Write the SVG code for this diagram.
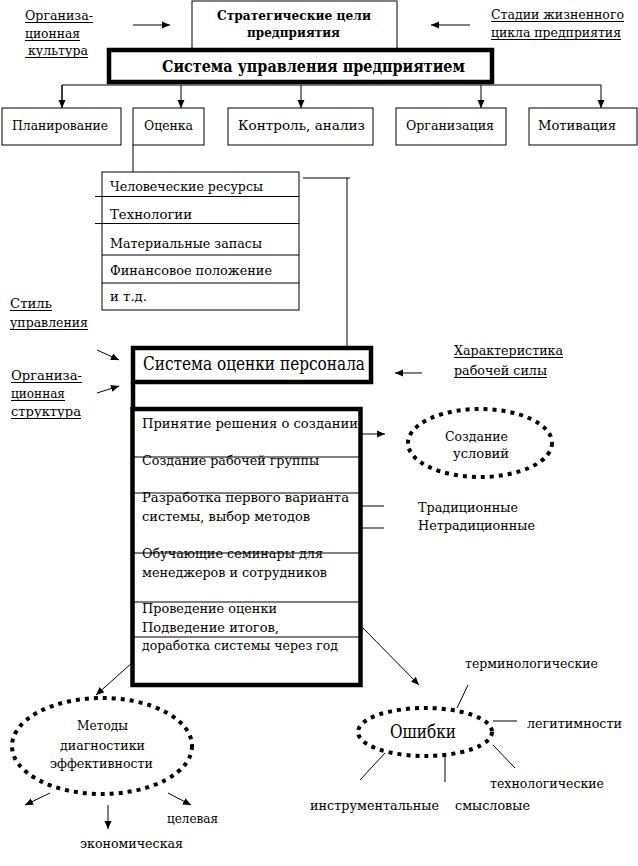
<svg xmlns="http://www.w3.org/2000/svg" width="638" height="866" viewBox="0 0 638 866" font-family="DejaVu Serif, Liberation Serif, serif">
<style>
text{font-size:13px;fill:#000}
.b{font-weight:bold}
.box{fill:#fff;stroke:#000;stroke-width:1}
.thick{fill:#fff;stroke:#000;stroke-width:4.5}
.ln{stroke:#000;stroke-width:1;fill:none}
.ul{stroke:#000;stroke-width:1}
.dot{fill:none;stroke:#000;stroke-width:4;stroke-dasharray:4 5}
</style>
<defs>
<marker id="ah" markerUnits="userSpaceOnUse" markerWidth="8" markerHeight="8" refX="8" refY="4" orient="auto">
<path d="M0,0.5 L8,4 L0,7.5 z" fill="#000"/>
</marker>
</defs>
<rect width="638" height="866" fill="#fff"/>

<g id="connectors">
<line class="ln" x1="133" y1="25" x2="170" y2="25" marker-end="url(#ah)"/>
<line class="ln" x1="470" y1="25" x2="431" y2="25" marker-end="url(#ah)"/>
<polyline class="ln" points="62,108 62,85 601,85 601,108" marker-end="url(#ah)"/>
<line class="ln" x1="62" y1="85" x2="62" y2="108" marker-end="url(#ah)"/>
<line class="ln" x1="181" y1="85" x2="181" y2="108" marker-end="url(#ah)"/>
<line class="ln" x1="301" y1="85" x2="301" y2="108" marker-end="url(#ah)"/>
<line class="ln" x1="481" y1="85" x2="481" y2="108" marker-end="url(#ah)"/>
<line class="ln" x1="133" y1="145" x2="133" y2="172"/>
<polyline class="ln" points="303,178 350,178"/>
<line class="ln" x1="347" y1="178" x2="347" y2="347"/>
<line class="ln" x1="97" y1="350" x2="119" y2="360" marker-end="url(#ah)"/>
<line class="ln" x1="97" y1="393" x2="119" y2="386" marker-end="url(#ah)"/>
<line class="ln" x1="422" y1="373" x2="395" y2="373" marker-end="url(#ah)"/>
<line stroke="#000" stroke-width="4.5" x1="133" y1="382" x2="133" y2="409"/>
<line class="ln" x1="362" y1="434" x2="385" y2="434" marker-end="url(#ah)"/>
<line class="ln" x1="362" y1="506" x2="384" y2="506"/>
<line class="ln" x1="362" y1="528" x2="384" y2="528"/>
<line class="ln" x1="362" y1="627" x2="419" y2="685" marker-end="url(#ah)"/>
<line class="ln" x1="133" y1="662" x2="96" y2="695" marker-end="url(#ah)"/>
<line class="ln" x1="50" y1="793" x2="25" y2="805" marker-end="url(#ah)"/>
<line class="ln" x1="108" y1="805" x2="108" y2="829" marker-end="url(#ah)"/>
<line class="ln" x1="168" y1="793" x2="191" y2="805" marker-end="url(#ah)"/>
<line class="ln" x1="457" y1="708" x2="468" y2="685"/>
<line class="ln" x1="493" y1="721" x2="517" y2="721"/>
<line class="ln" x1="493" y1="745" x2="515" y2="768"/>
<line class="ln" x1="445" y1="757" x2="445" y2="782"/>
<line class="ln" x1="385" y1="753" x2="360" y2="780"/>
</g>

<g id="label-culture">
<text x="25" y="20" textLength="68" lengthAdjust="spacingAndGlyphs">Организа-</text>
<text x="25" y="38" textLength="55" lengthAdjust="spacingAndGlyphs">ционная</text>
<text x="28" y="55" textLength="60" lengthAdjust="spacingAndGlyphs">культура</text>
<line class="ul" x1="25" y1="22.5" x2="93" y2="22.5"/>
<line class="ul" x1="25" y1="40.5" x2="80" y2="40.5"/>
<line class="ul" x1="25" y1="57.5" x2="88" y2="57.5"/>
</g>
<g id="label-stages">
<text x="491" y="19" textLength="133" lengthAdjust="spacingAndGlyphs">Стадии жизненного</text>
<text x="491" y="37" textLength="130" lengthAdjust="spacingAndGlyphs">цикла предприятия</text>
<line class="ul" x1="491" y1="21.5" x2="624" y2="21.5"/>
<line class="ul" x1="491" y1="39.5" x2="621" y2="39.5"/>
</g>
<g id="node-goals">
<rect class="box" x="192" y="1" width="205" height="48"/>
<text class="b" x="217" y="20" textLength="154" lengthAdjust="spacingAndGlyphs">Стратегические цели</text>
<text class="b" x="247" y="37" textLength="93" lengthAdjust="spacingAndGlyphs">предприятия</text>
</g>
<g id="node-management">
<rect class="thick" x="109" y="50" width="383" height="32"/>
<text class="b" x="162" y="72" style="font-size:17px" textLength="303" lengthAdjust="spacingAndGlyphs">Система управления предприятием</text>
</g>
<g id="node-planning">
<rect class="box" x="2" y="108" width="119" height="37"/>
<text x="12" y="130" textLength="96" lengthAdjust="spacingAndGlyphs">Планирование</text>
</g>
<g id="node-assessment">
<rect class="box" x="133" y="108" width="71" height="37"/>
<text x="144" y="130" textLength="49" lengthAdjust="spacingAndGlyphs">Оценка</text>
</g>
<g id="node-control">
<rect class="box" x="228" y="108" width="145" height="37"/>
<text x="238" y="130" textLength="127" lengthAdjust="spacingAndGlyphs">Контроль, анализ</text>
</g>
<g id="node-organization">
<rect class="box" x="396" y="108" width="110" height="37"/>
<text x="406" y="130" textLength="88" lengthAdjust="spacingAndGlyphs">Организация</text>
</g>
<g id="node-motivation">
<rect class="box" x="529" y="108" width="108" height="37"/>
<text x="538" y="130" textLength="78" lengthAdjust="spacingAndGlyphs">Мотивация</text>
</g>

<g id="node-resources">
<rect class="box" x="102" y="172" width="197" height="138"/>
<line class="ln" x1="95" y1="196.5" x2="299" y2="196.5"/>
<line class="ln" x1="95" y1="223.5" x2="299" y2="223.5"/>
<line class="ln" x1="102" y1="255" x2="299" y2="255"/>
<line class="ln" x1="102" y1="283" x2="299" y2="283"/>
<text x="110" y="191" textLength="153" lengthAdjust="spacingAndGlyphs">Человеческие ресурсы</text>
<text x="110" y="219" textLength="82" lengthAdjust="spacingAndGlyphs">Технологии</text>
<text x="110" y="248" textLength="152" lengthAdjust="spacingAndGlyphs">Материальные запасы</text>
<text x="110" y="275" textLength="162" lengthAdjust="spacingAndGlyphs">Финансовое положение</text>
<text x="110" y="301" textLength="37" lengthAdjust="spacingAndGlyphs">и т.д.</text>
</g>

<g id="label-style">
<text x="10" y="308" textLength="42" lengthAdjust="spacingAndGlyphs">Стиль</text>
<text x="10" y="327" textLength="78" lengthAdjust="spacingAndGlyphs">управления</text>
<line class="ul" x1="10" y1="310.5" x2="52" y2="310.5"/>
<line class="ul" x1="10" y1="329.5" x2="88" y2="329.5"/>
</g>
<g id="label-structure">
<text x="11" y="380" textLength="71" lengthAdjust="spacingAndGlyphs">Организа-</text>
<text x="11" y="398" textLength="54" lengthAdjust="spacingAndGlyphs">ционная</text>
<text x="11" y="416" textLength="70" lengthAdjust="spacingAndGlyphs">структура</text>
<line class="ul" x1="11" y1="382.5" x2="82" y2="382.5"/>
<line class="ul" x1="11" y1="400.5" x2="65" y2="400.5"/>
<line class="ul" x1="11" y1="418.5" x2="81" y2="418.5"/>
</g>
<g id="label-workforce">
<text x="454" y="355" textLength="109" lengthAdjust="spacingAndGlyphs">Характеристика</text>
<text x="454" y="375" textLength="93" lengthAdjust="spacingAndGlyphs">рабочей силы</text>
<line class="ul" x1="454" y1="357.5" x2="563" y2="357.5"/>
<line class="ul" x1="454" y1="377.5" x2="547" y2="377.5"/>
</g>

<g id="node-personnel">
<rect class="thick" x="133" y="348" width="238" height="34"/>
<text x="143" y="370" style="font-size:18px" textLength="222" lengthAdjust="spacingAndGlyphs">Система оценки персонала</text>
</g>

<g id="node-stages">
<rect class="thick" x="132.5" y="409" width="228" height="276"/>
<line class="ln" x1="132" y1="457" x2="362" y2="457"/>
<line class="ln" x1="132" y1="493" x2="362" y2="493"/>
<line class="ln" x1="132" y1="553" x2="362" y2="553"/>
<line class="ln" x1="132" y1="602" x2="362" y2="602"/>
<line class="ln" x1="132" y1="637" x2="362" y2="637"/>
<text x="142" y="428" textLength="216" lengthAdjust="spacingAndGlyphs">Принятие решения о создании</text>
<text x="142" y="465" textLength="177" lengthAdjust="spacingAndGlyphs">Создание рабочей группы</text>
<text x="142" y="502" textLength="207" lengthAdjust="spacingAndGlyphs">Разработка первого варианта</text>
<text x="142" y="521" textLength="168" lengthAdjust="spacingAndGlyphs">системы, выбор методов</text>
<text x="142" y="558" textLength="181" lengthAdjust="spacingAndGlyphs">Обучающие семинары для</text>
<text x="142" y="577" textLength="185" lengthAdjust="spacingAndGlyphs">менеджеров и сотрудников</text>
<text x="142" y="613" textLength="135" lengthAdjust="spacingAndGlyphs">Проведение оценки</text>
<text x="142" y="632" textLength="137" lengthAdjust="spacingAndGlyphs">Подведение итогов,</text>
<text x="142" y="650" textLength="196" lengthAdjust="spacingAndGlyphs">доработка системы через год</text>
</g>

<g id="node-conditions">
<ellipse class="dot" cx="480" cy="443" rx="72" ry="34"/>
<text x="445" y="441" textLength="63" lengthAdjust="spacingAndGlyphs">Создание</text>
<text x="453" y="458" textLength="56" lengthAdjust="spacingAndGlyphs">условий</text>
</g>
<g id="label-methods-types">
<text x="418" y="512" textLength="100" lengthAdjust="spacingAndGlyphs">Традиционные</text>
<text x="418" y="530" textLength="117" lengthAdjust="spacingAndGlyphs">Нетрадиционные</text>
</g>

<g id="node-methods">
<ellipse class="dot" cx="102" cy="746" rx="90" ry="48"/>
<text x="77" y="730" textLength="51" lengthAdjust="spacingAndGlyphs">Методы</text>
<text x="60" y="750" textLength="85" lengthAdjust="spacingAndGlyphs">диагностики</text>
<text x="50" y="768" textLength="103" lengthAdjust="spacingAndGlyphs">эффективности</text>
</g>
<g id="label-target"><text x="167" y="823" textLength="51" lengthAdjust="spacingAndGlyphs">целевая</text></g>
<g id="label-economic"><text x="80" y="848" textLength="103" lengthAdjust="spacingAndGlyphs">экономическая</text></g>

<g id="node-errors">
<ellipse class="dot" cx="425" cy="732" rx="67" ry="24"/>
<text x="390" y="738" style="font-size:19px" textLength="66" lengthAdjust="spacingAndGlyphs">Ошибки</text>
</g>
<g id="label-terminological"><text x="465" y="668" textLength="133" lengthAdjust="spacingAndGlyphs">терминологические</text></g>
<g id="label-legitimacy"><text x="527" y="728" textLength="95" lengthAdjust="spacingAndGlyphs">легитимности</text></g>
<g id="label-technological"><text x="490" y="788" textLength="114" lengthAdjust="spacingAndGlyphs">технологические</text></g>
<g id="label-instrumental"><text x="310" y="810" textLength="129" lengthAdjust="spacingAndGlyphs">инструментальные</text></g>
<g id="label-semantic"><text x="455" y="810" textLength="75" lengthAdjust="spacingAndGlyphs">смысловые</text></g>
</svg>
